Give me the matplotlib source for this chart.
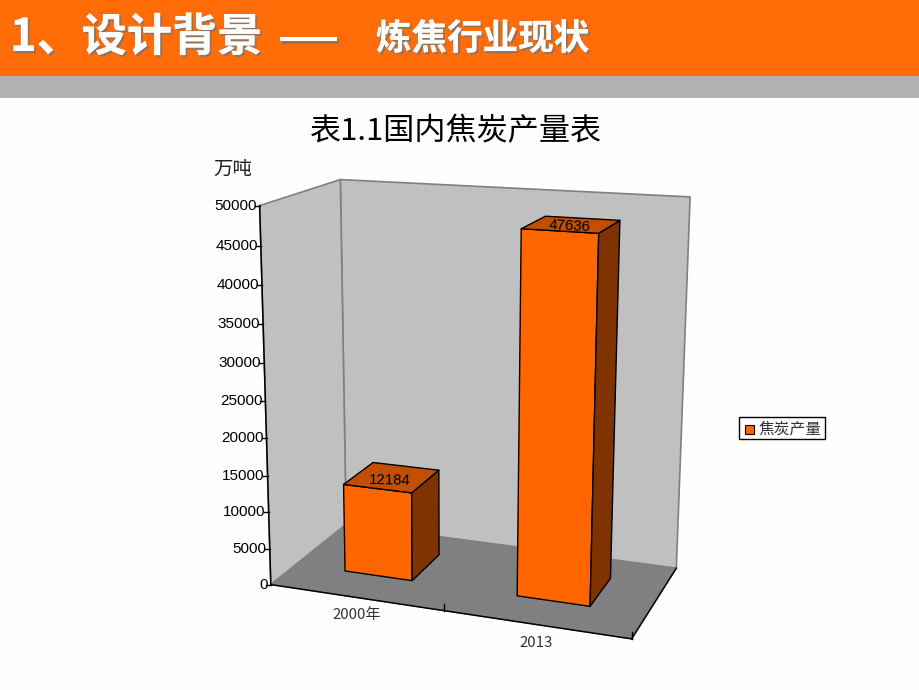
import numpy as np
import matplotlib
matplotlib.use("Agg")
import matplotlib.pyplot as plt
import matplotlib.patheffects as pe
from matplotlib.patches import Polygon, Rectangle

plt.rcParams["font.family"] = ["Noto Sans CJK SC", "DejaVu Sans"]

categories = ["2000年", "2013"]
values = [12184, 47636]
y_ticks = [0, 5000, 10000, 15000, 20000, 25000, 30000, 35000, 40000, 45000, 50000]
y_max = 50000
series_name = "焦炭产量"

ORANGE = "#ff6600"
TOP = "#c05000"
SIDE = "#803300"

# corners of the 3d box on the page: (x, y, depth) -> pixel
box = [
    ((0, 0, 0), (272, 585)),
    ((2, 0, 0), (631, 639)),
    ((2, 0, 1), (677, 568)),
    ((0, 0, 1), (345, 524)),
    ((0, 1, 0), (259, 205)),
    ((0, 1, 1), (341, 180)),
    ((2, 1, 1), (690, 197)),
]

# camera matrix fitted on the corners
rows = []
for (x, y, z), (u, v) in box:
    u, v = u / 1000, v / 1000
    rows.append([x, y, z, 1, 0, 0, 0, 0, -u * x, -u * y, -u * z, -u])
    rows.append([0, 0, 0, 0, x, y, z, 1, -v * x, -v * y, -v * z, -v])
cam = np.linalg.svd(np.array(rows, dtype=float))[2][-1].reshape(3, 4)


def proj(x, y, z):
    p = cam @ np.array([x, y, z, 1.0])
    return p[0] / p[2] * 1000, p[1] / p[2] * 1000


fig = plt.figure(figsize=(9.2, 6.9), dpi=100, facecolor="#fefefc")
ax = fig.add_axes([0, 0, 1, 1])
ax.set_xlim(0, 920)
ax.set_ylim(690, 0)
ax.axis("off")

# header
ax.add_patch(Rectangle((0, 0), 920, 76, color="#ff6c08", lw=0))
ax.add_patch(Rectangle((0, 76), 920, 22, color="#b2b2b2", lw=0))
shadow = [pe.withSimplePatchShadow(offset=(1.5, -1.5), shadow_rgbFace="#777777", alpha=0.8), pe.Normal()]
ax.text(10, 38, "1、设计背景", color="white", fontsize=32.5, fontweight="bold",
        va="center", ha="left", path_effects=shadow)
# one big dash, two of them leave a gap
ax.text(308.5, 39, "—", color="white", fontsize=52, va="center", ha="center", path_effects=shadow)
ax.text(376, 39, "炼焦行业现状", color="white", fontsize=25.6, fontweight="bold",
        va="center", ha="left", path_effects=shadow)

ax.text(456, 132, "表1.1国内焦炭产量表", color="black", fontsize=22.4, ha="center", va="center",
        family=["Noto Sans CJK SC", "DejaVu Sans"])
ax.text(233, 169, "万吨", color="#222222", fontsize=14, ha="center", va="center")


def face(pts, color, edge="black", lw=1.0, z=2):
    ax.add_patch(Polygon([proj(*p) for p in pts], closed=True, facecolor=color,
                         edgecolor=edge, lw=lw, zorder=z, joinstyle="round"))


# walls and floor
face([(0, 0, 1), (2, 0, 1), (2, 1, 1), (0, 1, 1)], "#c0c0c0", "#808080", 1.2)
face([(0, 0, 0), (0, 0, 1), (0, 1, 1), (0, 1, 0)], "#c0c0c0", "#808080", 1.2)
face([(0, 0, 0), (2, 0, 0), (2, 0, 1), (0, 0, 1)], "#808080", "#808080", 0.8)

# axis lines
ax.plot(*zip(proj(0, 0, 0), proj(0, 1, 0)), color="black", lw=1.1, zorder=3)
ax.plot(*zip(proj(0, 0, 0), proj(2, 0, 0)), color="black", lw=1.1, zorder=3)
ax.plot(*zip(proj(2, 0, 0), proj(2, 0, 1)), color="black", lw=1.1, zorder=3)

for t in y_ticks:
    px, py = proj(0, t / y_max, 0)
    ax.plot([px - 5, px], [py, py], color="black", lw=1.0, zorder=3)
    ax.text(px - 3, py, str(t), ha="right", va="center", fontsize=11,
            family="Liberation Sans", color="black")

for i in range(1, len(categories) + 1):
    px, py = proj(i, 0, 0)
    ax.plot([px, px], [py, py - 7], color="black", lw=1.0, zorder=3)

# bars
z0, z1 = 0.32, 0.73
bar_l, bar_r = 0.297, 0.697
for i, (name, val) in enumerate(zip(categories, values)):
    h = val / y_max
    x0, x1 = i + bar_l, i + bar_r
    face([(x0, 0, z0), (x1, 0, z0), (x1, h, z0), (x0, h, z0)], ORANGE, z=5)
    face([(x1, 0, z0), (x1, 0, z1), (x1, h, z1), (x1, h, z0)], SIDE, z=5)
    face([(x0, h, z0), (x1, h, z0), (x1, h, z1), (x0, h, z1)], TOP, z=5)
    tx, ty = proj((x0 + x1) / 2, h, z0 + 0.35 * (z1 - z0))
    ax.text(tx + 2, ty, str(val), ha="center", va="center", fontsize=10.8, zorder=6,
            family="Liberation Sans", color="black", rotation=-3 if i else -1)
    lx, ly = proj(i + 0.505, 0, 0)
    ax.text(lx, ly + 18, name, ha="center", va="center", fontsize=10.8,
            color="#333333", zorder=6)

# legend
ax.add_patch(Rectangle((739, 417), 86, 21.5, facecolor="white", edgecolor="black", lw=1, zorder=5))
ax.add_patch(Rectangle((745, 425), 9, 9, facecolor=ORANGE, edgecolor="black", lw=0.8, zorder=6))
ax.text(759, 429, series_name, fontsize=11.3, va="center", ha="left", color="#333333", zorder=6)

fig.savefig("out.png", dpi=100, facecolor=fig.get_facecolor())
